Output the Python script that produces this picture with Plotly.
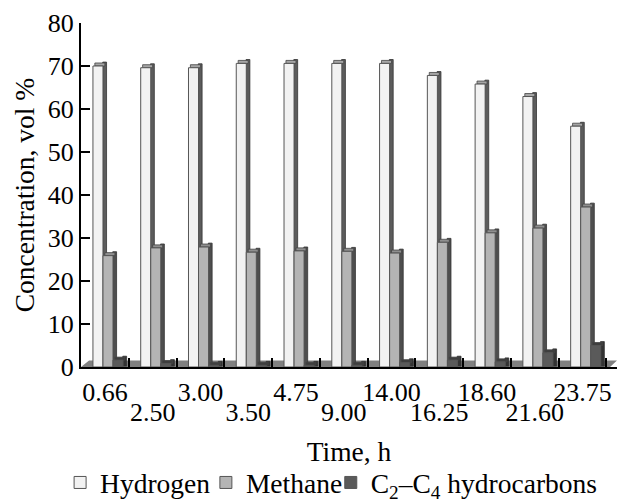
import plotly.graph_objects as go

# ---- data ----
times = ["0.66", "2.50", "3.00", "3.50", "4.75", "9.00", "14.00", "16.25", "18.60", "21.60", "23.75"]
hydrogen = [70.0, 69.6, 69.6, 70.6, 70.6, 70.6, 70.6, 67.8, 65.8, 62.9, 56.0]
methane = [25.9, 27.7, 27.9, 26.7, 27.0, 26.9, 26.5, 29.0, 31.2, 32.3, 37.2]
c2c4 = [1.6, 0.8, 0.4, 0.4, 0.4, 0.4, 1.0, 1.6, 1.2, 3.3, 5.0]
series_names = ["Hydrogen", "Methane", "C<sub>2</sub>–C<sub>4</sub> hydrocarbons"]
yticks = [0, 10, 20, 30, 40, 50, 60, 70, 80]

FONT = "Liberation Serif, Times New Roman, serif"
FS = 26      # tick labels
FT = 27.5    # titles and legend

front_colors = ["#f2f2f2", "#b4b4b4", "#5a5a5a"]
side_colors = ["#5c5c5c", "#4e4e4e", "#333333"]
top_colors = ["#a6a6a6", "#8f8f8f", "#3e3e3e"]
offsets = [-0.25, -0.04, 0.17]
legend_ids = ["legend", "legend2", "legend3"]
legend_x = [-0.039, 0.233, 0.466]
W = 0.21      # front face width (category units)
SW = 0.08     # side face width
DEPTH = 0.7   # visual depth in y units

fig = go.Figure()
for name, vals, fc, sc, tc, off, lg in zip(series_names, [hydrogen, methane, c2c4],
                                           front_colors, side_colors, top_colors, offsets, legend_ids):
    # side face
    fig.add_trace(go.Bar(
        x=times, y=[v + DEPTH for v in vals], base=DEPTH * 0.3, width=SW, offset=off + W - 0.005,
        marker=dict(color=sc, line=dict(color="#333333", width=0.8)), opacity=1,
        showlegend=False, hoverinfo="skip"))
    # top face
    fig.add_trace(go.Bar(
        x=times, y=[DEPTH] * len(vals), base=vals, width=W, offset=off + SW / 2,
        marker=dict(color=tc, line=dict(color="#444444", width=0.8)), opacity=1,
        showlegend=False, hoverinfo="skip"))
    # front face
    fig.add_trace(go.Bar(
        x=times, y=vals, width=W, offset=off, name=name, legend=lg,
        marker=dict(color=fc, line=dict(color="#555555", width=1)), opacity=1))

n = len(times)
xr = [-0.5, n - 0.5 + 0.22]

legend_common = dict(orientation="h", y=-0.336, yanchor="middle", xanchor="left",
                     font=dict(family=FONT, size=FT, color="black"), itemwidth=30,
                     bgcolor="rgba(0,0,0,0)")

fig.update_layout(
    width=619, height=504,
    margin=dict(l=81, r=2, t=23, b=137, autoexpand=False),
    paper_bgcolor="white", plot_bgcolor="white",
    barmode="overlay",
    font=dict(family=FONT, size=FS, color="black"),
    showlegend=True,
    legend=dict(x=legend_x[0], **legend_common),
    legend2=dict(x=legend_x[1], **legend_common),
    legend3=dict(x=legend_x[2], **legend_common),
    xaxis=dict(type="category", range=xr, categoryorder="array", categoryarray=times,
               tickmode="array", tickvals=times,
               ticktext=[t if i % 2 == 0 else "" for i, t in enumerate(times)],
               tickangle=0, automargin=False,
               tickson="boundaries", ticks="inside", ticklen=9, tickwidth=2, tickcolor="black",
               showline=True, linecolor="black", linewidth=2, showgrid=False, zeroline=False,
               ticklabelstandoff=1),
    xaxis2=dict(type="linear", range=xr, overlaying="x", anchor="y", side="bottom",
                tickmode="array", tickvals=[i for i in range(n) if i % 2 == 1],
                ticktext=[t for i, t in enumerate(times) if i % 2 == 1],
                tickangle=0, automargin=False,
                ticks="", showline=False, showgrid=False, zeroline=False,
                ticklabelstandoff=27,
                title=dict(text="Time, h", standoff=15, font=dict(family=FONT, size=FT))),
    yaxis=dict(range=[0, 80], tickmode="array", tickvals=yticks, automargin=False,
               ticks="inside", ticklen=9, tickwidth=2, tickcolor="black",
               showline=True, linecolor="black", linewidth=2, showgrid=False, zeroline=False,
               title=dict(text="Concentration, vol %", standoff=5, font=dict(family=FONT, size=FT))),
)

# invisible anchor trace so the second x axis is drawn
fig.add_trace(go.Scatter(x=[], y=[], xaxis="x2", yaxis="y", showlegend=False, hoverinfo="skip"))

# 3D floor
fig.add_shape(type="path", xref="paper", yref="y",
              path="M0,0 L0.987,0 L1.0,1.5 L0.015,1.5 Z",
              fillcolor="#808080", line=dict(width=0), layer="below")

fig.write_html("out.html")
